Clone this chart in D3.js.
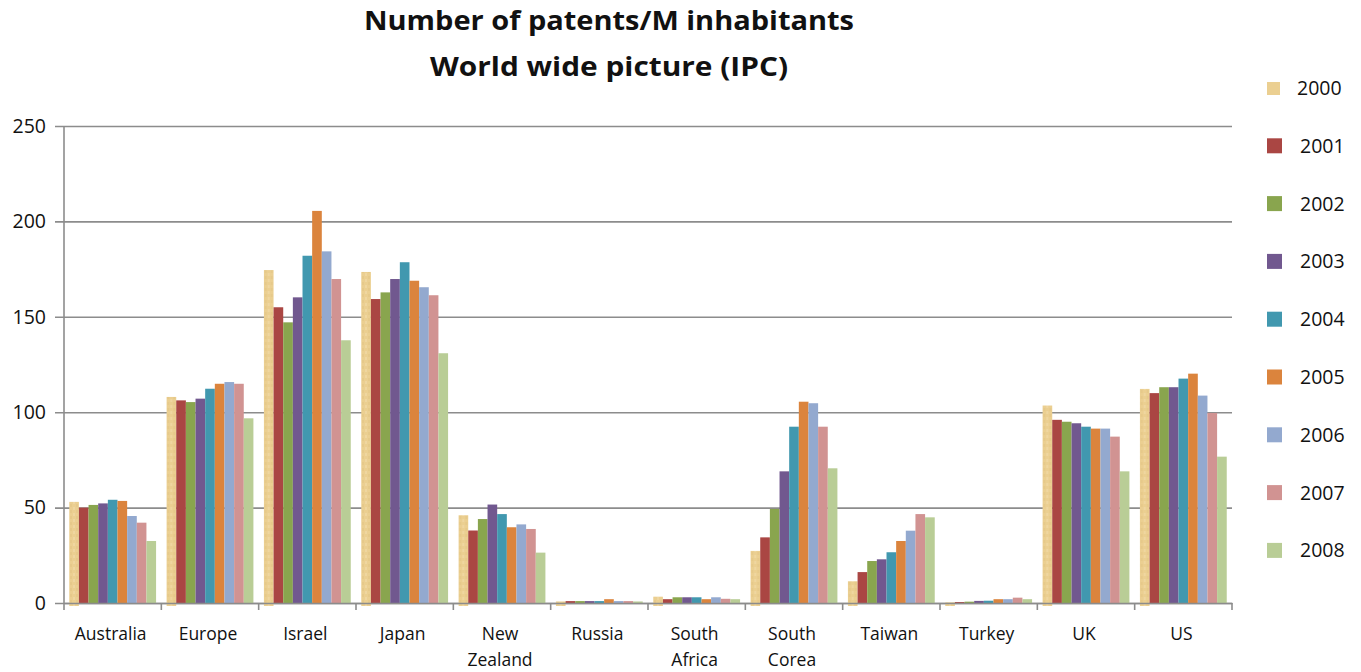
<!DOCTYPE html>
<html>
<head>
<meta charset="utf-8">
<script src="https://cdn.jsdelivr.net/npm/d3@7"></script>
<style>
  html, body { margin: 0; padding: 0; background: #fff; }
  svg { display: block; }
  text { font-family: "Open Sans", "Noto Sans", sans-serif; fill: #111; }
</style>
</head>
<body>
<svg id="chart" width="1361" height="672"></svg>
<script>
// Patents per million inhabitants, by country and year
const categories = ["Australia", "Europe", "Israel", "Japan", "New Zealand", "Russia",
  "South Africa", "South Corea", "Taiwan", "Turkey", "UK", "US"];
const years = ["2000", "2001", "2002", "2003", "2004", "2005", "2006", "2007", "2008"];

const y2000 = [53, 108, 174.5, 173.5, 46, 0.8, 3.3, 27.3, 11.4, 0.3, 103.5, 112.2];
const y2001 = [50, 106.2, 155, 159.3, 38, 1, 2, 34.4, 16.2, 0.5, 96, 110];
const y2002 = [51.4, 105.3, 147.1, 162.8, 44, 1, 3, 49.3, 22, 0.7, 95, 113.1];
const y2003 = [52.2, 107.1, 160.2, 169.8, 51.6, 1, 3, 69, 22.9, 1.1, 94.2, 113.1];
const y2004 = [54.1, 112.3, 182, 178.6, 46.6, 1, 3, 92.4, 26.6, 1.2, 92.4, 117.6];
const y2005 = [53.5, 114.9, 205.5, 168.9, 39.7, 2, 2, 105.5, 32.5, 2, 91.4, 120.2];
const y2006 = [45.6, 115.8, 184.3, 165.5, 41.2, 1, 3, 104.7, 37.9, 2, 91.4, 108.7];
const y2007 = [42.1, 114.9, 169.8, 161.3, 38.8, 1, 2.2, 92.4, 46.6, 2.8, 87.2, 99.6];
const y2008 = [32.5, 96.8, 137.7, 130.9, 26.4, 0.8, 2, 70.6, 44.9, 2, 69, 76.7];
const series = [y2000, y2001, y2002, y2003, y2004, y2005, y2006, y2007, y2008];

const yTicks = [0, 50, 100, 150, 200, 250];
const colors = ["#EBCF91", "#AA4643", "#89A54E", "#71588F", "#4198AF",
  "#DB843D", "#93A9CF", "#D19392", "#B9CD96"];

const svg = d3.select("#chart");
const plot = { left: 64, right: 1232, top: 126, bottom: 603 };

const x0 = d3.scaleBand().domain(categories).range([plot.left, plot.right]);
const bw = x0.bandwidth();
const x1 = d3.scaleBand().domain(years).range([bw * 0.054, bw * 0.946]);
const y = d3.scaleLinear().domain([0, 250]).range([plot.bottom, plot.top]);
const color = d3.scaleOrdinal().domain(years).range(colors);

// soft grain on the first series
const defs = svg.append("defs");
const pat = defs.append("pattern").attr("id", "grain")
  .attr("patternUnits", "userSpaceOnUse").attr("width", 6).attr("height", 6);
pat.append("rect").attr("width", 6).attr("height", 6).attr("fill", colors[0]);
pat.append("rect").attr("x", 0).attr("y", 0).attr("width", 2).attr("height", 3).attr("fill", "#E6C98A");
pat.append("rect").attr("x", 3).attr("y", 3).attr("width", 2).attr("height", 3).attr("fill", "#EFD6A0");

// title
const title = svg.append("g").attr("font-weight", "bold").attr("text-anchor", "middle");
title.append("text").attr("x", 609).attr("y", 30).attr("font-size", 27)
  .attr("textLength", 490).attr("lengthAdjust", "spacingAndGlyphs")
  .text("Number of patents/M  inhabitants");
title.append("text").attr("x", 609).attr("y", 76).attr("font-size", 27)
  .attr("textLength", 358).attr("lengthAdjust", "spacingAndGlyphs")
  .text("World wide picture (IPC)");

// horizontal gridlines and y axis
const yAxis = d3.axisLeft(y).tickValues(yTicks).tickSize(plot.right - plot.left + 9)
  .tickPadding(10).tickFormat(d3.format("d"));
const gy = svg.append("g").attr("transform", `translate(${plot.right},0)`).call(yAxis);
gy.select(".domain").remove();
gy.selectAll(".tick line").attr("stroke", "#8c8c8c").attr("stroke-width", 1.6);
gy.selectAll(".tick text").attr("font-size", 19.5).attr("fill", "#111")
  .attr("x", -(plot.right - plot.left + 18)).attr("font-family", "'Open Sans', sans-serif");

svg.append("line").attr("x1", plot.left).attr("x2", plot.left)
  .attr("y1", plot.top).attr("y2", plot.bottom)
  .attr("stroke", "#8c8c8c").attr("stroke-width", 1.6);

// bars
const groups = svg.append("g").selectAll("g").data(categories).join("g")
  .attr("transform", d => `translate(${x0(d)},0)`);
groups.selectAll("rect")
  .data((c, ci) => years.map((yr, si) => ({ yr, si, v: series[si][ci] })))
  .join("rect")
  .attr("x", d => x1(d.yr))
  .attr("width", x1.bandwidth())
  .attr("y", d => y(d.v))
  .attr("height", d => y(0) - y(d.v) + (d.si === 0 ? 3 : 0))
  .attr("fill", d => d.si === 0 ? "url(#grain)" : color(d.yr));

// x axis baseline with category ticks
const xAxis = d3.axisBottom(x0).tickSize(0).tickFormat("");
const gx = svg.append("g").attr("transform", `translate(0,${plot.bottom})`).call(xAxis);
gx.select(".domain").attr("stroke", "#8c8c8c").attr("stroke-width", 1.6);
const bounds = categories.map(c => x0(c)).concat([plot.right]);
svg.append("g").selectAll("line").data(bounds).join("line")
  .attr("x1", d => d).attr("x2", d => d)
  .attr("y1", plot.bottom).attr("y2", plot.bottom + 7)
  .attr("stroke", "#8c8c8c").attr("stroke-width", 1.6);

// category labels (wrapped onto two lines where needed)
const lab = svg.append("g").attr("text-anchor", "middle").attr("font-size", 17.5);
categories.forEach(c => {
  const words = c.split(" ");
  const cx = x0(c) + bw / 2 - 2;
  const t = lab.append("text").attr("x", cx).attr("y", 640);
  words.forEach((w, i) => {
    t.append("tspan").attr("x", cx).attr("dy", i === 0 ? 0 : 26).text(w);
  });
});

// legend
const leg = svg.append("g").selectAll("g").data(years).join("g")
  .attr("transform", (d, i) => `translate(1267,${88 + i * 57.8})`);
leg.append("rect").attr("y", (d, i) => i === 0 ? -6 : -7.5)
  .attr("width", (d, i) => i === 0 ? 13 : 15).attr("height", (d, i) => i === 0 ? 13 : 15)
  .attr("fill", d => color(d));
leg.append("text").attr("x", (d, i) => i === 0 ? 30 : 33).attr("y", 7)
  .attr("font-size", 19.5).text(d => d);
</script>
</body>
</html>
